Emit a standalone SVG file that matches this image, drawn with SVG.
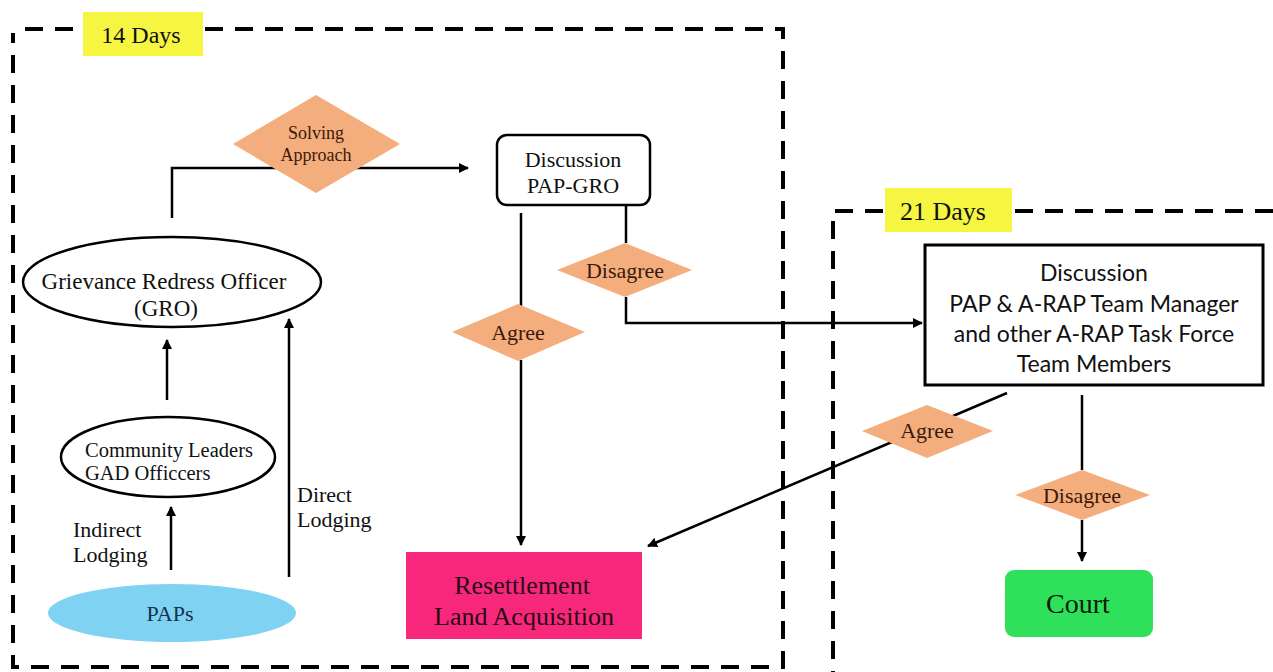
<svg xmlns="http://www.w3.org/2000/svg" width="1273" height="672" viewBox="0 0 1273 672">
<style>
.dash{fill:none;stroke:#000;stroke-width:4;stroke-dasharray:18 12}
.ln{fill:none;stroke:#000;stroke-width:2.5}
.dia{fill:#f4ad7c}
.yl{fill:#f5f542}
</style>
<defs>
<marker id="ah" markerWidth="10" markerHeight="10" refX="9" refY="5" orient="auto" markerUnits="userSpaceOnUse">
<path d="M0,0 L10,5 L0,10 z" fill="#000"/>
</marker>
</defs>
<rect width="1273" height="672" fill="#fff"/>
<g id="boxes">
<path class="dash" d="M25,29 H783 V667 H13 V33"/>
<path class="dash" d="M1273,211 H833 V672"/>
</g>
<g font-family="Liberation Serif, Times New Roman, serif" fill="#111">
<g id="label14"><rect class="yl" x="83" y="12" width="120" height="44"/><text x="141" y="43" font-size="24" text-anchor="middle">14 Days</text></g>
<g id="label21"><rect class="yl" x="885" y="188" width="127" height="44"/><text x="943" y="220" font-size="26" text-anchor="middle">21 Days</text></g>
</g>
<g id="connectors">
<path class="ln" d="M172,218 V168 H468" marker-end="url(#ah)"/>
<path class="ln" d="M521,213 V307"/>
<path class="ln" d="M521,360 V545" marker-end="url(#ah)"/>
<path class="ln" d="M626,205 V243"/>
<path class="ln" d="M626,297 V323 H922" marker-end="url(#ah)"/>
<path class="ln" d="M1007,393 L648,546" marker-end="url(#ah)"/>
<path class="ln" d="M1082,395 V470"/>
<path class="ln" d="M1082,520 V561" marker-end="url(#ah)"/>
<path class="ln" d="M167,400 V340" marker-end="url(#ah)"/>
<path class="ln" d="M171,570 V507" marker-end="url(#ah)"/>
<path class="ln" d="M289,577 V319" marker-end="url(#ah)"/>
</g>
<g font-family="Liberation Serif, Times New Roman, serif" fill="#3a1a0a" text-anchor="middle">
<g id="solving"><polygon class="dia" points="316,95 400,144 316,193 233,144"/><text x="316" y="139" font-size="18">Solving</text><text x="316" y="161" font-size="18">Approach</text></g>
<g id="disagree1"><polygon class="dia" points="625,243 692,270 625,297 557,270"/><text x="625" y="278" font-size="22">Disagree</text></g>
<g id="agree1"><polygon class="dia" points="518,304 585,332 518,361 452,332"/><text x="518" y="340" font-size="22">Agree</text></g>
<g id="agree2"><polygon class="dia" points="927,405 993,431 927,458 862,431"/><text x="927" y="438" font-size="22">Agree</text></g>
<g id="disagree2"><polygon class="dia" points="1082,470 1150,495 1082,520 1015,495"/><text x="1082" y="503" font-size="22">Disagree</text></g>
</g>
<g font-family="Liberation Serif, Times New Roman, serif" fill="#111" text-anchor="middle">
<g id="disc1"><rect x="497" y="135" width="153" height="70" rx="10" fill="#fff" stroke="#000" stroke-width="2.5"/><text x="573" y="167" font-size="22">Discussion</text><text x="573" y="193" font-size="22">PAP-GRO</text></g>
<g id="court"><rect x="1005" y="570" width="148" height="67" rx="9" fill="#2fe05a"/><text x="1078" y="613" font-size="28" fill="#0a1a0a">Court</text></g>
<g id="gro"><ellipse cx="172" cy="282" rx="149" ry="45" fill="#fff" stroke="#000" stroke-width="2.5"/><text x="164" y="289" font-size="23">Grievance Redress Officer</text><text x="166" y="316" font-size="23">(GRO)</text></g>
<g id="community"><ellipse cx="168" cy="457" rx="107" ry="40" fill="#fff" stroke="#000" stroke-width="2.5"/><text x="169" y="457" font-size="20.5">Community Leaders</text><text x="85" y="480" font-size="20.5" text-anchor="start">GAD Officcers</text></g>
<g id="indirect" text-anchor="start"><text x="73" y="537" font-size="22">Indirect</text><text x="73" y="562" font-size="22">Lodging</text></g>
<g id="direct" text-anchor="start"><text x="297" y="502" font-size="22">Direct</text><text x="297" y="527" font-size="22">Lodging</text></g>
<g id="paps"><ellipse cx="172" cy="613" rx="124" ry="29" fill="#7fd2f2"/><text x="170" y="621" font-size="22" fill="#12324a">PAPs</text></g>
<g id="resettlement"><rect x="406" y="552" width="236" height="87" fill="#f7287b"/><text x="522" y="594" font-size="26" fill="#2a0a14">Resettlement</text><text x="524" y="625" font-size="26" fill="#2a0a14">Land Acquisition</text></g>
</g>
<g id="disc2"><rect x="925" y="245" width="338" height="140" fill="#fff" stroke="#000" stroke-width="3"/>
<g font-family="Lato, Noto Sans, sans-serif" font-size="23" fill="#111" text-anchor="middle">
<text x="1094" y="281">Discussion</text><text x="1094" y="312">PAP &amp; A-RAP Team Manager</text><text x="1094" y="342">and other A-RAP Task Force</text><text x="1094" y="372">Team Members</text></g></g>
</svg>
